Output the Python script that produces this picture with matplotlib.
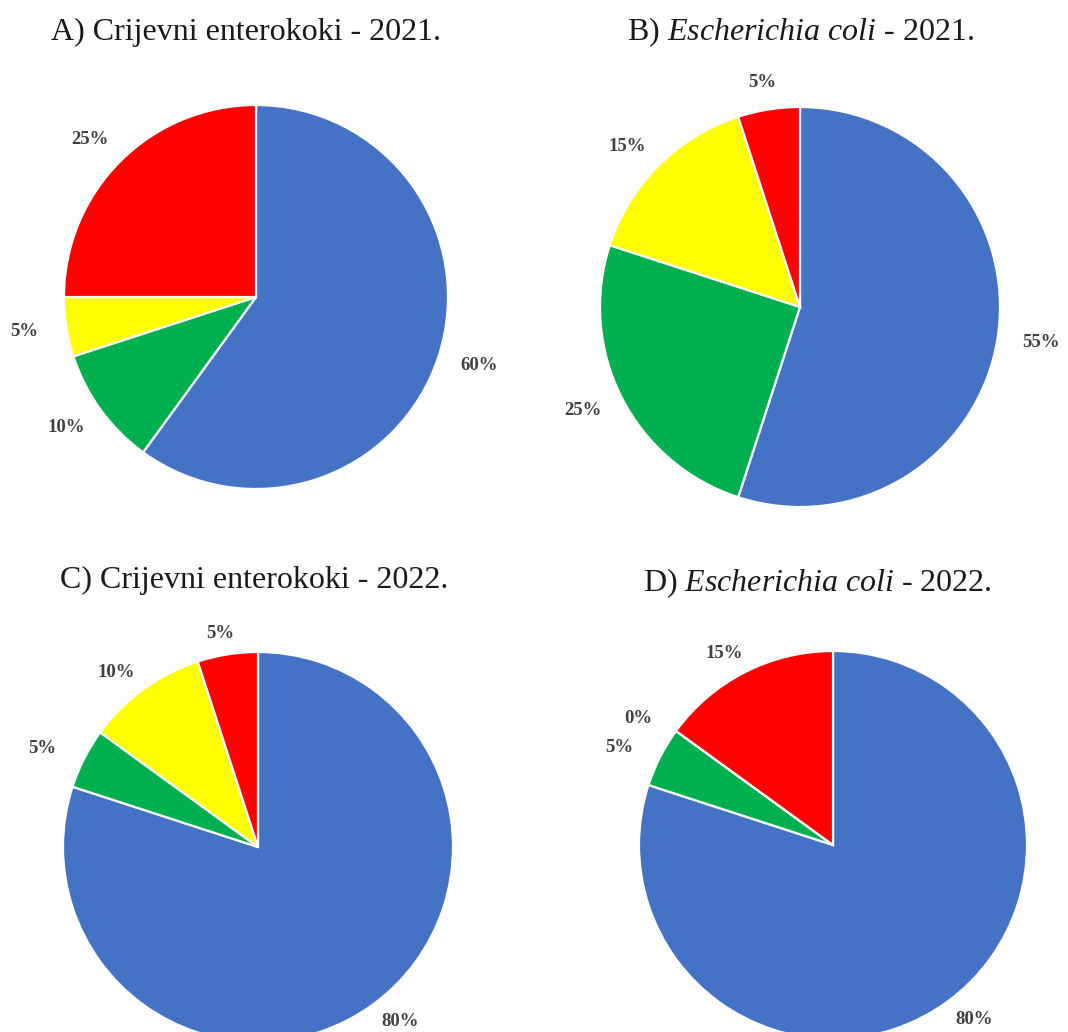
import matplotlib.pyplot as plt

plt.rcParams['font.family'] = 'Liberation Serif'
plt.rcParams['mathtext.fontset'] = 'custom'
plt.rcParams['mathtext.rm'] = 'Liberation Serif'
plt.rcParams['mathtext.it'] = 'Liberation Serif:italic'

# slices go clockwise from 12 o'clock: blue, green, yellow, red
colors = ['#4472C4', '#00B050', '#FFFF00', '#FF0000']

titles = ['A) Crijevni enterokoki - 2021.',
          r'B) $\mathit{Escherichia\ coli}$ - 2021.',
          'C) Crijevni enterokoki - 2022.',
          r'D) $\mathit{Escherichia\ coli}$ - 2022.']
share_a = [60, 10, 5, 25]
share_b = [55, 25, 15, 5]
share_c = [80, 5, 10, 5]
share_d = [80, 5, 0, 15]
shares = [share_a, share_b, share_c, share_d]

# layout in pixels (x, y from top)
W, H = 1068, 1032
centers = [(256, 297), (800, 307), (258, 847), (833, 845)]
radii = [192, 200, 195, 194]
label_dist = [1.22, 1.22, 1.18, 1.18]
# labels sit on a slightly squashed ellipse around each pie
stretch = [(1.0, 0.95), (1.0, 0.93), (1.05, 0.94), (1.05, 0.94)]
title_pos = [(246, 32), (801, 32), (254, 580), (817, 583)]

fig = plt.figure(figsize=(W / 100, H / 100), dpi=100)
ax = fig.add_axes([0, 0, 1, 1])

for vals, (cx, cy), r, ld, (kx, ky), t, (tx, ty) in zip(
        shares, centers, radii, label_dist, stretch, titles, title_pos):
    labels = ['%d%%' % v for v in vals]
    wedges, texts = ax.pie(vals, colors=colors, labels=labels, startangle=90,
                           counterclock=False, center=(cx, H - cy), radius=r,
                           labeldistance=ld, frame=True,
                           wedgeprops=dict(edgecolor='white', linewidth=1.6),
                           textprops=dict(fontsize=13.5, fontweight='bold', color='#404040'))
    for tt in texts:
        x, y = tt.get_position()
        tt.set_position((cx + (x - cx) * kx, (H - cy) + (y - (H - cy)) * ky))
        tt.set_ha('center')
        tt.set_va('center')
    ax.text(tx, H - ty, t, ha='center', va='center', fontsize=23, color='#1a1a1a')

ax.set_xlim(0, W)
ax.set_ylim(0, H)
ax.set_aspect('auto')
ax.axis('off')

fig.savefig('out.png', dpi=100)
